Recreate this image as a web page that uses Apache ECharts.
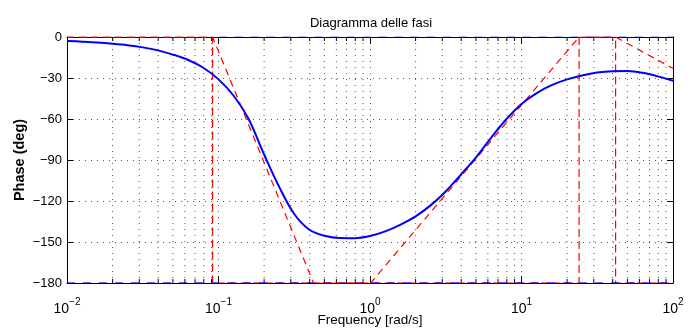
<!DOCTYPE html>
<html>
<head>
<meta charset="utf-8">
<script src="https://cdn.jsdelivr.net/npm/echarts@6/dist/echarts.min.js"></script>
<style>html,body{margin:0;padding:0;background:#fff}#c{width:695px;height:333px}</style>
</head>
<body>
<div id="c"></div>
<script>
// ---- data ----
const freq = [0.01,0.0126,0.0158,0.02,0.0251,0.0316,0.0398,0.0501,0.0631,0.0794,0.1,0.126,0.158,0.2,0.251,0.316,0.398,0.501,0.631,0.794,1,1.26,1.58,2,2.51,3.16,3.98,5.01,6.31,7.94,10,12.6,15.8,20,25.1,31.6,39.8,50.1,63.1,79.4,100];
const phase = [-2.9,-3.4,-4.0,-4.9,-6.0,-7.6,-9.8,-12.9,-16.8,-22.5,-31,-43,-60,-86,-109.5,-129.5,-141,-145.4,-147.1,-147.2,-145.6,-142.2,-137.4,-131.2,-123.2,-113,-100.7,-88,-73.6,-60.2,-49,-41,-35.2,-31,-28.1,-26,-25,-24.9,-26.2,-28.8,-32];
const stepFreq = [0.01,0.0914,0.0914,24,24,41.8,41.8,100];
const stepPhase = [0,0,-180,-180,0,0,-180,-180];
const slopeFreq = [0.01,0.0914,0.424,1.01,24,41.8,100];
const slopePhase = [0,0,-180,-180,0,0,-23];
const flatBottomFreq = [0.01,100];
const flatBottomPhase = [-180,-180];
const flatTopFreq = [0.1,100];
const flatTopPhase = [0,0];
const minorFreq = [];
[0.01,0.1,1,10].forEach(d=>{for(let k=2;k<=9;k++) minorFreq.push(+(d*k).toPrecision(3));});

const pairs = (xs, ys) => xs.map((x,i)=>[x, ys[i]]);
const FONT = "'Liberation Sans', Arial, Helvetica, sans-serif";
const GRID_DASH = [1,5];
const GRID_COLOR = '#555';

const chart = echarts.init(document.getElementById('c'), null, {renderer:'canvas'});
const supFmt = v => {
  const e = Math.round(Math.log10(v));
  return '{b|10}{s|' + String(e).replace('-', '\u2212') + '}';
};
const option = {
  animation: false,
  backgroundColor: '#fff',
  title: {
    text: 'Diagramma delle fasi',
    left: 366, top: 12, textAlign: 'center',
    textStyle: {fontFamily: FONT, fontSize: 13, fontWeight: 'normal', color: '#000'}
  },
  grid: {left: 67, right: 22, top: 37, bottom: 50, containLabel: false, outerBoundsMode: 'none'},
  xAxis: [{
    type: 'log', logBase: 10, min: 0.01, max: 100, splitNumber: 4,
    name: 'Frequency [rad/s]', nameLocation: 'middle', nameGap: 30, nameMoveOverlap: false,
    nameTextStyle: {fontFamily: FONT, fontSize: 13.5, color: '#000'},
    axisLine: {show: true, onZero: false, lineStyle: {color: '#000', width: 1}},
    axisTick: {show: true, inside: true, length: 7, lineStyle: {color: '#000'}},
    axisLabel: {
      margin: 11, formatter: supFmt, color: '#000',
      rich: {
        b: {fontFamily: FONT, fontSize: 14, color: '#000', padding: [8,0,0,0]},
        s: {fontFamily: FONT, fontSize: 10, color: '#000', padding: [0,0,6,0]}
      }
    },
    splitLine: {show: true, lineStyle: {color: GRID_COLOR, type: GRID_DASH, width: 1}}
  },{
    type: 'log', logBase: 10, min: 0.01, max: 100, splitNumber: 4, position: 'top',
    axisLine: {show: true, onZero: false, lineStyle: {color: '#000', width: 1}},
    axisTick: {show: true, inside: true, length: 7, lineStyle: {color: '#000'}},
    axisLabel: {show: false}, splitLine: {show: false}
  }],
  yAxis: [{
    type: 'value', min: -180, max: 0, interval: 30,
    name: 'Phase (deg)', nameLocation: 'middle', nameGap: 40, nameMoveOverlap: false,
    nameTextStyle: {fontFamily: FONT, fontSize: 14.5, fontWeight: 'bold', color: '#000'},
    axisLine: {show: true, lineStyle: {color: '#000', width: 1}},
    axisTick: {show: true, inside: true, length: 6, lineStyle: {color: '#000'}},
    axisLabel: {
      margin: 5, fontFamily: FONT, fontSize: 13, color: '#000',
      formatter: v => String(v).replace('-', '\u2212')
    },
    splitLine: {show: true, lineStyle: {color: GRID_COLOR, type: GRID_DASH, width: 1}}
  },{
    type: 'value', min: -180, max: 0, interval: 30, position: 'right',
    axisLine: {show: true, lineStyle: {color: '#000', width: 1}},
    axisTick: {show: true, inside: true, length: 6, lineStyle: {color: '#000'}},
    axisLabel: {show: false}, splitLine: {show: false}
  }],
  series: [
    {
      type: 'custom', xAxisIndex: 0, yAxisIndex: 0, silent: true, z: 1,
      data: minorFreq.map(f=>[f]),
      renderItem: (params, api) => {
        const x = api.coord([api.value(0), 0])[0];
        const top = api.coord([api.value(0), 0])[1];
        const bot = api.coord([api.value(0), -180])[1];
        return {type: 'group', children: [
          {type: 'line', shape: {x1: x, y1: top, x2: x, y2: bot},
           style: {stroke: GRID_COLOR, lineWidth: 1, lineDash: GRID_DASH}},
          {type: 'line', shape: {x1: x, y1: bot, x2: x, y2: bot-4}, style: {stroke: '#000', lineWidth: 1}},
          {type: 'line', shape: {x1: x, y1: top, x2: x, y2: top+4}, style: {stroke: '#000', lineWidth: 1}}
        ]};
      }
    },
    {
      type: 'line', data: pairs(stepFreq, stepPhase), showSymbol: false, z: 3,
      lineStyle: {color: '#ff0000', width: 1.2, type: [8,4]}, silent: true
    },
    {
      type: 'line', data: pairs(flatBottomFreq, flatBottomPhase), showSymbol: false, z: 4,
      lineStyle: {color: '#0000ff', width: 1.2, type: [8,8]}, silent: true
    },
    {
      type: 'line', data: pairs(flatTopFreq, flatTopPhase), showSymbol: false, z: 4,
      lineStyle: {color: '#0000ff', width: 1.2, type: [8,8]}, silent: true
    },
    {
      type: 'line', data: pairs(slopeFreq, slopePhase), showSymbol: false, z: 5,
      lineStyle: {color: '#ff0000', width: 1.2, type: [7,5]}, silent: true
    },
    {
      type: 'line', data: pairs(freq, phase), showSymbol: false, smooth: 0.35, z: 6,
      lineStyle: {color: '#0000ff', width: 2}, silent: true
    }
  ]
};
chart.setOption(option);
</script>
</body>
</html>
